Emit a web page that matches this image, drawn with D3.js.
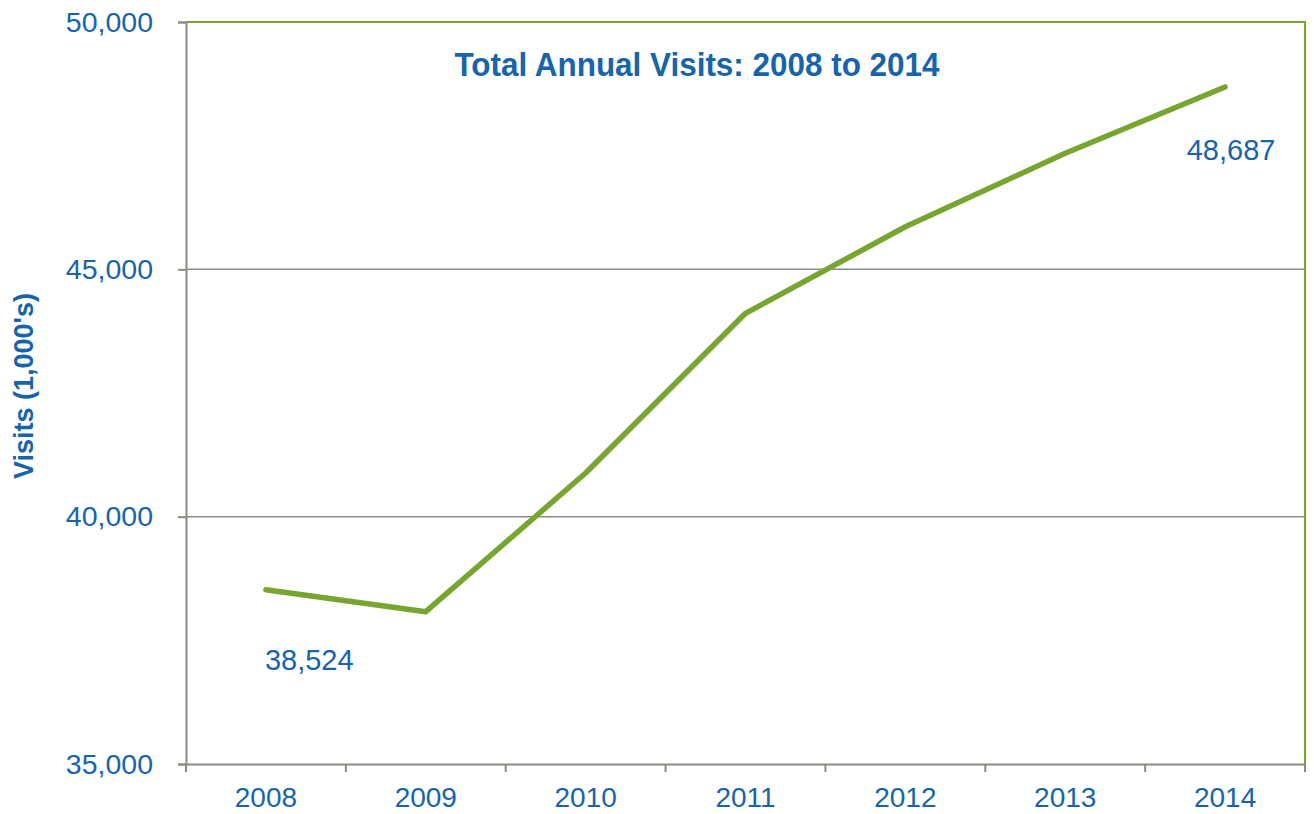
<!DOCTYPE html>
<html>
<head>
<meta charset="utf-8">
<script src="https://cdn.jsdelivr.net/npm/d3@7"></script>
<style>
  body { margin: 0; background: #fff; overflow: hidden; }
  svg { display: block; }
  text { font-family: "Liberation Sans", Arial, sans-serif; }
</style>
</head>
<body>
<div id="chart"></div>
<script>
// Data
const years = ['2008', '2009', '2010', '2011', '2012', '2013', '2014'];
const visits = [38524, 38079, 40883, 44111, 45860, 47346, 48687];
const yTicks = [35000, 40000, 45000, 50000];
const labelledYears = ['2008', '2014'];

const width = 1314, height = 814;
const margin = { top: 22, right: 9, bottom: 50, left: 186 };
const innerWidth = width - margin.left - margin.right;
const innerHeight = height - margin.top - margin.bottom;

const blue = '#1764ab';
const green = '#78a52f';
const gray = '#8c8c84';

const svg = d3.select('#chart')
    .append('svg')
    .attr('width', width)
    .attr('height', height)
    .append('g')
    .attr('transform', `translate(${margin.left},${margin.top})`);

const xScale = d3.scaleBand()
    .domain(years)
    .range([0, innerWidth]);

const yScale = d3.scaleLinear()
    .domain([35000, 50000])
    .range([innerHeight, 0]);

// Gridlines
svg.append('g')
    .selectAll('line')
    .data(yTicks.filter(d => d > 35000 && d < 50000))
    .join('line')
    .attr('x1', 0)
    .attr('x2', innerWidth)
    .attr('y1', d => yScale(d))
    .attr('y2', d => yScale(d))
    .attr('stroke', gray)
    .attr('stroke-width', 1.5);

// Green frame on top and right
svg.append('path')
    .attr('d', `M0,0H${innerWidth}V${innerHeight}`)
    .attr('fill', 'none')
    .attr('stroke', green)
    .attr('stroke-width', 2);

// Y axis
const yAxis = svg.append('g')
    .call(d3.axisLeft(yScale)
        .tickValues(yTicks)
        .tickSize(8)
        .tickPadding(25)
        .tickFormat(d3.format(',')));
yAxis.select('.domain').attr('stroke', gray).attr('stroke-width', 2);
yAxis.selectAll('.tick line').attr('stroke', gray).attr('stroke-width', 2);
yAxis.selectAll('.tick text')
    .attr('fill', blue)
    .style('font-size', '28.5px')
    .style('font-family', '"Liberation Sans", Arial, sans-serif');

// X axis with ticks between categories
const xAxis = svg.append('g')
    .attr('transform', `translate(0,${innerHeight})`)
    .call(d3.axisBottom(xScale).tickSize(0).tickPadding(23));
xAxis.select('.domain').attr('stroke', gray).attr('stroke-width', 2);
xAxis.selectAll('.tick text')
    .attr('fill', blue)
    .style('font-size', '28px')
    .style('font-family', '"Liberation Sans", Arial, sans-serif');

svg.append('g')
    .selectAll('line')
    .data(years.concat(['end']))
    .join('line')
    .attr('x1', (d, i) => i * xScale.step())
    .attr('x2', (d, i) => i * xScale.step())
    .attr('y1', innerHeight)
    .attr('y2', innerHeight + 8)
    .attr('stroke', gray)
    .attr('stroke-width', 2);

// Line
const line = d3.line()
    .x((d, i) => xScale(years[i]) + xScale.bandwidth() / 2)
    .y(d => yScale(d));

svg.append('path')
    .datum(visits)
    .attr('d', line)
    .attr('fill', 'none')
    .attr('stroke', green)
    .attr('stroke-width', 5.5)
    .attr('stroke-linejoin', 'round')
    .attr('stroke-linecap', 'round');

// Data labels for first and last points
const firstIdx = years.indexOf(labelledYears[0]);
const lastIdx = years.indexOf(labelledYears[1]);

svg.append('text')
    .attr('x', xScale(years[firstIdx]) + xScale.bandwidth() / 2 - 1)
    .attr('y', yScale(visits[firstIdx]) + 80)
    .attr('fill', blue)
    .style('font-size', '29px')
    .text(d3.format(',')(visits[firstIdx]));

svg.append('text')
    .attr('x', xScale(years[lastIdx]) + xScale.bandwidth() / 2 + 6)
    .attr('y', yScale(visits[lastIdx]) + 73)
    .attr('text-anchor', 'middle')
    .attr('fill', blue)
    .style('font-size', '29px')
    .text(d3.format(',')(visits[lastIdx]));

// Title
svg.append('text')
    .attr('x', 697 - margin.left)
    .attr('y', 76 - margin.top)
    .attr('text-anchor', 'middle')
    .attr('fill', blue)
    .attr('textLength', 485)
    .attr('lengthAdjust', 'spacingAndGlyphs')
    .style('font-size', '34px')
    .style('font-weight', 'bold')
    .text('Total Annual Visits: 2008 to 2014');

// Y axis title
svg.append('text')
    .attr('transform', `translate(${33 - margin.left},${386 - margin.top}) rotate(-90)`)
    .attr('text-anchor', 'middle')
    .attr('fill', blue)
    .style('font-size', '27px')
    .style('font-weight', 'bold')
    .text("Visits (1,000's)");
</script>
</body>
</html>
